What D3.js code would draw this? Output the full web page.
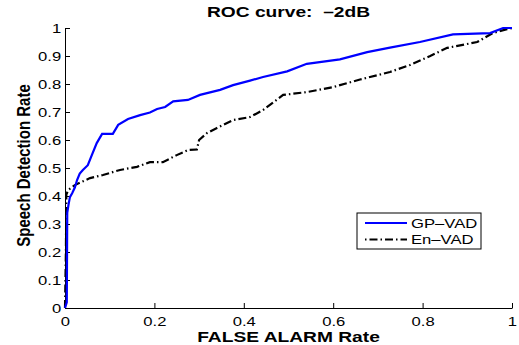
<!DOCTYPE html>
<html>
<head>
<meta charset="utf-8">
<script src="https://cdn.jsdelivr.net/npm/d3@7"></script>
<style>
  body { margin: 0; background: #fff; }
  svg { display: block; font-family: "Liberation Sans", Arial, sans-serif; }
</style>
</head>
<body>
<div id="chart"></div>
<script>
// ROC curve data
const gpFalseAlarm = [0, 0.004, 0.005, 0.008, 0.011, 0.016, 0.022, 0.027, 0.033, 0.04, 0.051, 0.06, 0.071, 0.083, 0.107, 0.119, 0.141, 0.168, 0.19, 0.206, 0.224, 0.242, 0.275, 0.302, 0.347, 0.376, 0.414, 0.443, 0.497, 0.541, 0.615, 0.676, 0.727, 0.794, 0.868, 0.951, 0.98, 1];
const gpDetection = [0, 0.02, 0.34, 0.37, 0.396, 0.41, 0.43, 0.457, 0.48, 0.493, 0.51, 0.546, 0.589, 0.622, 0.622, 0.654, 0.675, 0.689, 0.698, 0.711, 0.718, 0.738, 0.743, 0.761, 0.779, 0.796, 0.812, 0.825, 0.845, 0.872, 0.888, 0.914, 0.93, 0.95, 0.977, 0.982, 1, 1];

const enFalseAlarm = [0, 0.002, 0.003, 0.007, 0.022, 0.056, 0.085, 0.123, 0.161, 0.19, 0.219, 0.25, 0.275, 0.295, 0.3, 0.318, 0.34, 0.376, 0.414, 0.443, 0.488, 0.541, 0.6, 0.66, 0.727, 0.772, 0.817, 0.855, 0.922, 0.957, 0.989, 1];
const enDetection = [0, 0.2, 0.405, 0.421, 0.439, 0.464, 0.475, 0.493, 0.504, 0.521, 0.521, 0.546, 0.564, 0.566, 0.6, 0.625, 0.643, 0.671, 0.682, 0.707, 0.761, 0.771, 0.789, 0.816, 0.843, 0.868, 0.9, 0.929, 0.95, 0.982, 0.996, 1];

const xTicks = [0, 0.2, 0.4, 0.6, 0.8, 1];
const yTicks = [0, 0.1, 0.2, 0.3, 0.4, 0.5, 0.6, 0.7, 0.8, 0.9, 1];

const seriesNames = ["GP\u2013VAD", "En\u2013VAD"];

const width = 519, height = 345;
const margin = { top: 28, right: 7, bottom: 37, left: 65 };
// the reference image is stretched sideways, so text is widened too
const sx = 1.28;

const svg = d3.select("#chart").append("svg")
  .attr("width", width)
  .attr("height", height);

const x = d3.scaleLinear().domain([0, 1]).range([margin.left, width - margin.right]);
const y = d3.scaleLinear().domain([0, 1]).range([height - margin.bottom, margin.top]);

// axes: ticks point inward like MATLAB
const xAxis = svg.append("g")
  .attr("transform", `translate(0,${y(0)})`)
  .call(d3.axisBottom(x).tickValues(xTicks).tickFormat(String).tickSizeInner(-5).tickSizeOuter(0).tickPadding(9));
const yAxis = svg.append("g")
  .attr("transform", `translate(${x(0)},0)`)
  .call(d3.axisLeft(y).tickValues(yTicks).tickFormat(String).tickSizeInner(-5).tickSizeOuter(0).tickPadding(3));

[xAxis, yAxis].forEach(g => {
  g.selectAll("text")
    .attr("font-size", 13).attr("fill", "#000")
    .attr("font-family", "Liberation Sans, Arial, sans-serif")
    .attr("transform", `scale(${sx},1)`);
  g.selectAll("line").attr("stroke", "#000");
  g.select(".domain").attr("stroke", "#000");
});
yAxis.selectAll("text").attr("dy", "0.35em");

// curves
const line = d3.line().x(d => x(d[0])).y(d => y(d[1]));

svg.append("path")
  .datum(d3.zip(enFalseAlarm, enDetection))
  .attr("d", line)
  .attr("fill", "none")
  .attr("stroke", "#000")
  .attr("stroke-width", 2.2)
  .attr("stroke-dasharray", "8,3,1.5,3");

svg.append("path")
  .datum(d3.zip(gpFalseAlarm, gpDetection))
  .attr("d", line)
  .attr("fill", "none")
  .attr("stroke", "#0000ff")
  .attr("stroke-width", 2.2);

// title and labels
svg.append("text")
  .attr("transform", `translate(288.5,17) scale(${sx},1)`)
  .attr("text-anchor", "middle")
  .attr("font-size", 15).attr("font-weight", "bold")
  .style("white-space", "pre")
  .text("ROC curve:\u00a0 \u20132dB");

svg.append("text")
  .attr("transform", `translate(288.5,341.5) scale(${sx},1)`)
  .attr("text-anchor", "middle")
  .attr("font-size", 15).attr("font-weight", "bold")
  .text("FALSE ALARM Rate");

svg.append("text")
  .attr("transform", `translate(29.5,165.5) scale(${sx},1) rotate(-90)`)
  .attr("text-anchor", "middle")
  .attr("font-size", 15).attr("font-weight", "bold")
  .text("Speech Detection Rate");

// legend
const legend = svg.append("g").attr("transform", "translate(357,213)");
legend.append("rect")
  .attr("width", 124).attr("height", 36)
  .attr("fill", "#fff").attr("stroke", "#000").attr("stroke-width", 1);

const legendStyles = [
  { color: "#0000ff", dash: null },
  { color: "#000", dash: "1.5,3,8,3" }
];
seriesNames.forEach((name, i) => {
  const row = legend.append("g").attr("transform", `translate(0,${10 + i * 16.5})`);
  row.append("line")
    .attr("x1", 8).attr("x2", 50).attr("y1", 0).attr("y2", 0)
    .attr("stroke", legendStyles[i].color)
    .attr("stroke-width", 2.2)
    .attr("stroke-dasharray", legendStyles[i].dash);
  row.append("text")
    .attr("transform", `translate(54,0) scale(${sx},1)`)
    .attr("dy", "0.35em")
    .attr("font-size", 13)
    .text(name);
});
</script>
</body>
</html>
